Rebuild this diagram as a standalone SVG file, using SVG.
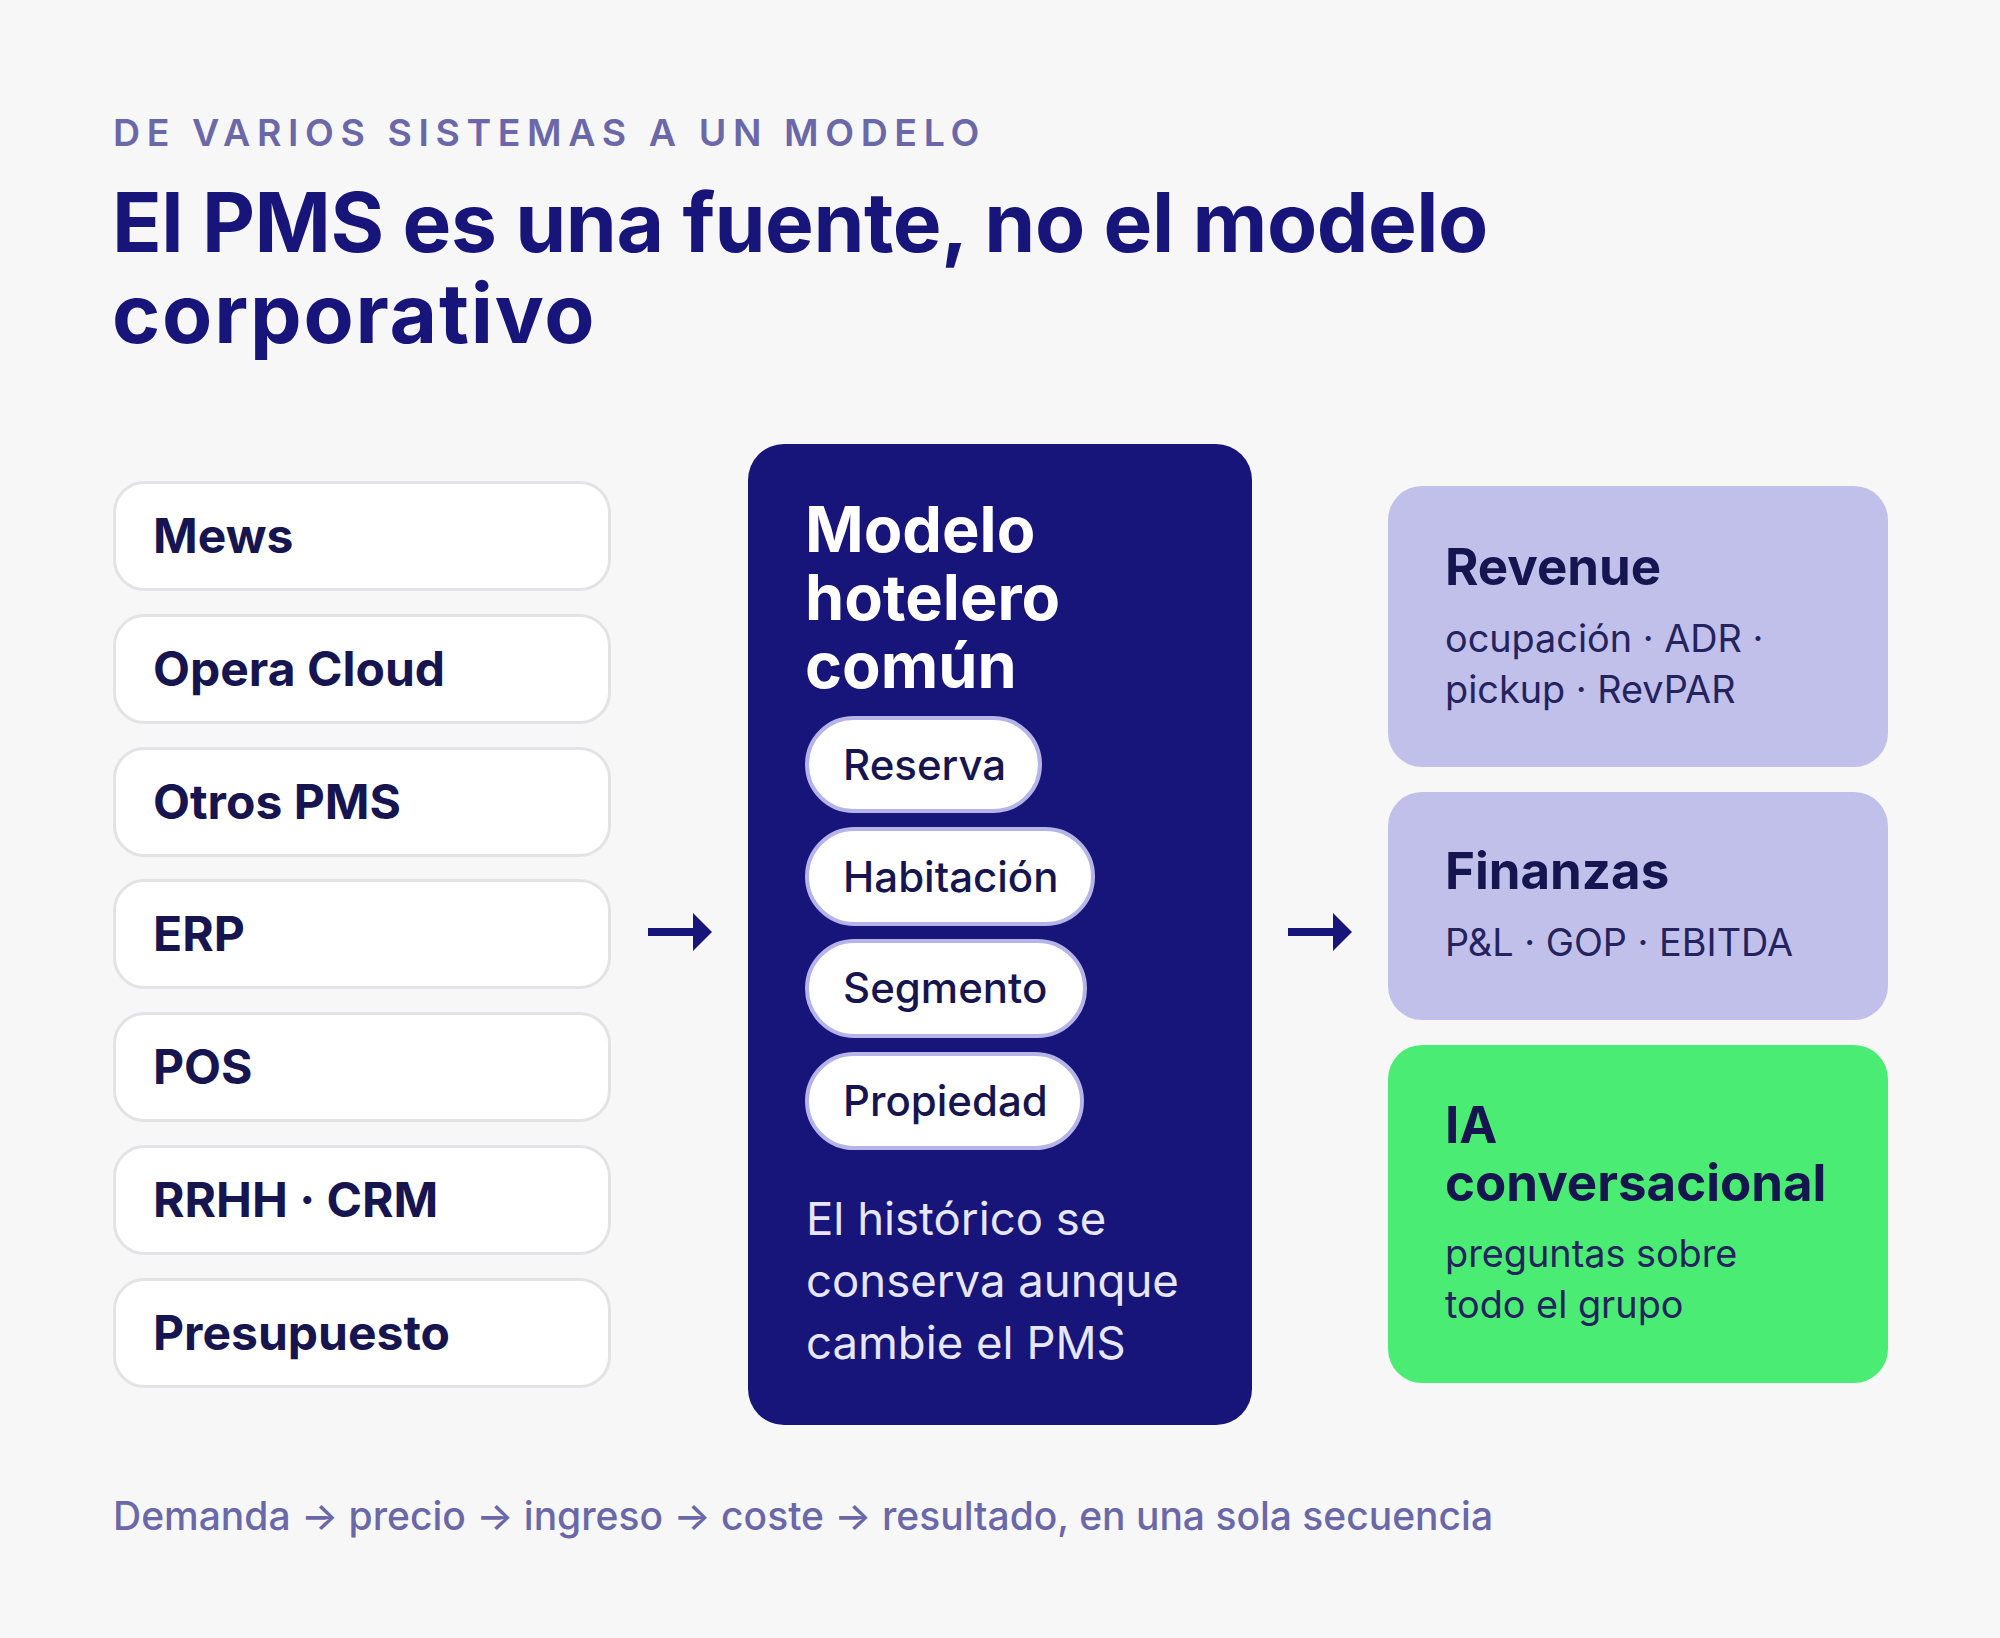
<svg xmlns="http://www.w3.org/2000/svg" width="2000" height="1638" viewBox="0 0 2000 1638">
<style>
  .bg { fill: #f7f7f8; }
  .eyebrow { font-family: Inter, "Liberation Sans", sans-serif; font-weight: 600; font-size: 37.5px; letter-spacing: 6.6px; fill: #6a68a8; }
  .h1 { font-family: Inter, "Liberation Sans", sans-serif; font-weight: 700; font-size: 82px; letter-spacing: -0.5px; fill: #18157a; }
  .h1b { letter-spacing: 1.8px; }
  .src rect { fill: #ffffff; stroke: #e3e3e6; stroke-width: 3; }
  .src text { font-family: Inter, "Liberation Sans", sans-serif; font-weight: 700; font-size: 48px; fill: #16154f; }
  .core { fill: #17147a; }
  .coretitle { font-family: Inter, "Liberation Sans", sans-serif; font-weight: 700; font-size: 63px; fill: #ffffff; }
  .chip rect { fill: #ffffff; stroke: #b4b4e8; stroke-width: 4; }
  .chip text { font-family: Inter, "Liberation Sans", sans-serif; font-weight: 500; font-size: 42px; fill: #16154f; }
  .corebody { font-family: Inter, "Liberation Sans", sans-serif; font-weight: 400; font-size: 45.5px; fill: #e6e6f7; }
  .out { fill: #c0c0ea; }
  .ia { fill: #4bec74; }
  .outtitle { font-family: Inter, "Liberation Sans", sans-serif; font-weight: 700; font-size: 51px; fill: #16154f; }
  .outsub { font-family: Inter, "Liberation Sans", sans-serif; font-weight: 400; font-size: 37.8px; fill: #25235e; }
  .footer { font-family: Inter, "Liberation Sans", sans-serif; font-weight: 500; font-size: 39px; fill: #6a68a8; }
  .arrow line { stroke: #18157a; stroke-width: 8; }
  .arrow path { fill: #18157a; }
</style>
<rect class="bg" x="0" y="0" width="2000" height="1638"/>

<text class="eyebrow" x="113" y="146">DE VARIOS SISTEMAS A UN MODELO</text>
<text class="h1" x="112" y="252">El PMS es una fuente, no el modelo</text>
<text class="h1 h1b" x="112" y="343">corporativo</text>

<g id="src-mews" class="src"><rect x="114.5" y="482.5" width="495" height="107" rx="30"/><text x="153" y="553">Mews</text></g>
<g id="src-opera" class="src"><rect x="114.5" y="615.5" width="495" height="107" rx="30"/><text x="153" y="686">Opera Cloud</text></g>
<g id="src-otros" class="src"><rect x="114.5" y="748.5" width="495" height="107" rx="30"/><text x="153" y="819">Otros PMS</text></g>
<g id="src-erp" class="src"><rect x="114.5" y="880.5" width="495" height="107" rx="30"/><text x="153" y="951">ERP</text></g>
<g id="src-pos" class="src"><rect x="114.5" y="1013.5" width="495" height="107" rx="30"/><text x="153" y="1084">POS</text></g>
<g id="src-rrhh" class="src"><rect x="114.5" y="1146.5" width="495" height="107" rx="30"/><text x="153" y="1217">RRHH · CRM</text></g>
<g id="src-presupuesto" class="src"><rect x="114.5" y="1279.5" width="495" height="107" rx="30"/><text x="153" y="1350">Presupuesto</text></g>

<g id="core">
  <rect class="core" x="748" y="444" width="504" height="981" rx="36"/>
  <text class="coretitle" x="805" y="552">Modelo</text>
  <text class="coretitle" x="805" y="620">hotelero</text>
  <text class="coretitle" x="805" y="688">común</text>
  <g id="chip-reserva" class="chip"><rect x="807" y="718" width="233" height="93" rx="46.5"/><text x="843" y="780">Reserva</text></g>
  <g id="chip-habitacion" class="chip"><rect x="807" y="829" width="286" height="95" rx="47.5"/><text x="843" y="892">Habitación</text></g>
  <g id="chip-segmento" class="chip"><rect x="807" y="941" width="278" height="95" rx="47.5"/><text x="843" y="1003">Segmento</text></g>
  <g id="chip-propiedad" class="chip"><rect x="807" y="1054" width="275" height="94" rx="47"/><text x="843" y="1116">Propiedad</text></g>
  <text class="corebody" x="806" y="1235">El histórico se</text>
  <text class="corebody" x="806" y="1297">conserva aunque</text>
  <text class="corebody" x="806" y="1359">cambie el PMS</text>
</g>

<g id="out-revenue">
  <rect class="out" x="1388" y="486" width="500" height="281" rx="34"/>
  <text class="outtitle" x="1445" y="585">Revenue</text>
  <text class="outsub" x="1445" y="652">ocupación · ADR ·</text>
  <text class="outsub" x="1445" y="703">pickup · RevPAR</text>
</g>
<g id="out-finanzas">
  <rect class="out" x="1388" y="792" width="500" height="228" rx="34"/>
  <text class="outtitle" x="1445" y="889">Finanzas</text>
  <text class="outsub" x="1445" y="956">P&amp;L · GOP · EBITDA</text>
</g>
<g id="out-ia">
  <rect class="ia" x="1388" y="1045" width="500" height="338" rx="34"/>
  <text class="outtitle" x="1445" y="1143">IA</text>
  <text class="outtitle" x="1445" y="1201">conversacional</text>
  <text class="outsub" x="1445" y="1267">preguntas sobre</text>
  <text class="outsub" x="1445" y="1318">todo el grupo</text>
</g>

<g id="connectors">
  <g class="arrow"><line x1="648" y1="932" x2="696" y2="932"/><path d="M693 913 L712 932 L693 951 Z"/></g>
  <g class="arrow"><line x1="1288" y1="932" x2="1336" y2="932"/><path d="M1333 913 L1352 932 L1333 951 Z"/></g>
</g>

<text class="footer" x="113" y="1530">Demanda → precio → ingreso → coste → resultado, en una sola secuencia</text>
</svg>
